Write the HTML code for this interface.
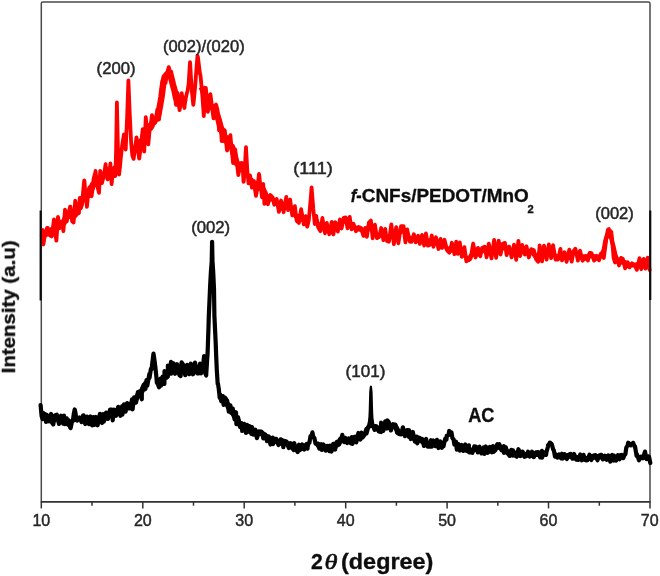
<!DOCTYPE html>
<html lang="en">
<head>
<meta charset="utf-8">
<title>XRD patterns of AC and f-CNFs/PEDOT/MnO2</title>
<style>
html,body{margin:0;padding:0;background:#fff;}
body{width:660px;height:576px;overflow:hidden;}
svg{display:block;font-family:"Liberation Sans",sans-serif;}
.pk{font-size:17px;fill:#262626;stroke:#262626;stroke-width:.5px;}
.tk{font-size:16px;fill:#262626;stroke:#262626;stroke-width:.45px;}
.b{font-weight:bold;fill:#111;stroke:#111;stroke-width:.35px;}
</style>
</head>
<body>
<svg width="660" height="576" viewBox="0 0 660 576">
<defs><filter id="soft" x="-5%" y="-5%" width="110%" height="110%"><feGaussianBlur stdDeviation="0.7"/></filter></defs>
<rect width="660" height="576" fill="#fff"/>
<g filter="url(#soft)">
<!-- plot frame -->
<path d="M41.3 501.9 L41.3 3.4 Q41.3 1.9 42.8 1.9 L648.5 1.9 Q650.0 1.9 650.0 3.4 L650.0 501.9" fill="none" stroke="#4a4a4a" stroke-width="1.5"/>
<line x1="40.8" y1="501.9" x2="650.5" y2="501.9" stroke="#333" stroke-width="1.6"/>
<g stroke="#333" stroke-width="1.5"><line x1="41.3" y1="501.9" x2="41.3" y2="508.4"/><line x1="92.0" y1="501.9" x2="92.0" y2="505.7"/><line x1="142.8" y1="501.9" x2="142.8" y2="508.4"/><line x1="193.5" y1="501.9" x2="193.5" y2="505.7"/><line x1="244.2" y1="501.9" x2="244.2" y2="508.4"/><line x1="294.9" y1="501.9" x2="294.9" y2="505.7"/><line x1="345.7" y1="501.9" x2="345.7" y2="508.4"/><line x1="396.4" y1="501.9" x2="396.4" y2="505.7"/><line x1="447.1" y1="501.9" x2="447.1" y2="508.4"/><line x1="497.8" y1="501.9" x2="497.8" y2="505.7"/><line x1="548.5" y1="501.9" x2="548.5" y2="508.4"/><line x1="599.3" y1="501.9" x2="599.3" y2="505.7"/><line x1="650.0" y1="501.9" x2="650.0" y2="508.4"/></g>
<!-- data -->
<path d="M40.6 413.3 L42.6 413.5 L46.0 416.9 L49.0 418.2 L52.0 419.9 L54.9 419.3 L59.0 418.1 L63.2 419.8 L64.8 420.4 L68.4 424.1 L70.3 423.4 M81.6 417.6 L83.6 419.2 L87.0 421.6 L90.5 420.7 L93.3 419.6 L95.9 421.0 L99.9 420.7 L103.0 419.5 L106.1 417.7 L110.0 414.6 L112.7 412.3 L116.0 410.7 L120.4 410.8 L122.4 410.2 L125.6 406.3 L128.8 406.5 L132.0 403.5 L134.1 402.1 L137.9 395.4 L141.8 391.2 L143.7 387.8 L146.5 382.2 M160.5 382.8 L162.6 379.7 L164.5 377.4 L167.8 373.5 L169.5 371.0 L171.1 368.1 L175.1 367.0 L179.4 369.4 L181.6 369.6 L185.2 368.4 L189.2 366.9 L190.8 369.3 L195.0 370.1 L198.7 371.0 L201.0 369.0 M222.9 398.3 L224.9 399.8 L228.8 407.6 L231.2 409.5 L234.6 416.1 L236.4 418.3 L240.1 424.6 L242.2 426.3 L245.9 428.5 L247.5 429.0 L251.3 430.4 L253.2 431.3 L256.9 433.1 L261.3 433.5 L263.3 434.4 L267.0 437.5 L270.5 440.7 L273.0 441.3 L276.2 440.9 L280.7 443.0 L283.3 442.0 L286.7 443.6 L290.6 446.5 L293.8 447.7 L295.9 448.6 L299.0 448.9 L302.2 448.0 L306.1 446.5 L307.9 443.6 M317.0 443.6 L319.4 445.6 L322.0 446.9 L325.6 447.1 L329.4 448.5 L331.5 448.0 L335.1 444.4 L337.2 444.6 L340.5 439.9 L342.3 439.4 L344.5 439.8 L347.2 440.4 L350.7 440.7 L352.4 440.3 L356.3 437.4 L360.5 435.7 L362.6 436.2 M376.7 428.4 L381.0 429.2 L383.3 426.8 L387.1 423.1 L388.8 425.4 L393.2 425.9 L395.4 426.5 L399.2 433.4 L402.9 432.6 L407.0 433.3 L409.0 434.0 L412.8 437.5 L416.9 439.8 L419.0 439.0 L422.2 441.1 L426.1 443.8 L429.8 445.1 L431.8 443.5 L435.2 442.2 L438.5 443.1 L441.9 444.4 L443.5 442.7 M456.8 446.1 L459.8 447.3 L463.3 446.8 L466.8 448.2 L469.0 450.2 L472.3 450.5 L475.9 448.4 L479.6 450.9 L483.8 450.3 L485.9 450.1 L489.9 450.7 L493.0 450.1 L495.3 448.1 L498.8 446.5 L501.5 447.9 L504.0 449.1 L507.5 452.1 L511.2 452.9 L513.0 452.9 L516.8 453.8 L520.4 452.3 L524.4 454.8 L528.0 454.8 L532.0 455.1 L536.0 453.9 L540.2 454.6 L542.0 454.6 M557.5 455.7 L561.1 456.2 L562.9 456.2 L566.8 456.0 L570.5 455.8 L574.1 457.4 L578.5 458.1 L581.9 456.5 L585.0 458.8 L587.5 458.7 L591.4 456.7 L595.4 456.9 L599.1 456.8 L602.9 456.7 L606.6 457.0 L610.3 457.3 L614.0 457.9 L616.1 458.0 L619.6 456.5 L623.2 455.5" fill="none" stroke="#000" stroke-width="5.6" stroke-linejoin="round" stroke-linecap="butt"/>
<path d="M40.6 405.0 L41.6 416.1 L42.6 419.0 L44.7 414.0 L46.0 422.0 L46.8 414.8 L49.0 421.3 L51.1 413.9 L52.0 422.8 L53.3 424.4 L54.9 415.4 L56.8 414.7 L59.0 423.9 L61.0 415.7 L63.2 423.7 L64.0 415.6 L64.8 424.1 L66.7 418.3 L68.4 424.3 L68.5 420.2 L70.3 427.7 L70.6 428.1 L72.3 420.4 L72.8 421.2 L73.8 413.8 L74.7 409.5 L75.5 413.0 L76.5 420.2 L77.2 420.5 L79.5 417.5 L81.6 422.1 L83.2 415.3 L83.6 415.5 L85.3 424.0 L87.0 416.6 L88.9 424.1 L90.5 416.5 L92.1 425.4 L93.3 417.0 L94.3 424.8 L95.9 417.0 L97.6 425.3 L99.9 413.8 L102.1 422.9 L103.0 414.0 L103.8 421.7 L106.1 412.6 L108.0 418.9 L110.0 409.7 L111.7 409.6 L112.7 420.3 L113.9 409.5 L116.0 415.8 L118.2 406.8 L120.4 415.8 L122.2 406.0 L122.4 414.6 L124.0 404.3 L125.6 411.6 L127.2 403.0 L128.8 408.4 L130.6 408.1 L132.0 399.3 L132.6 409.3 L134.1 397.3 L136.1 402.5 L137.9 392.2 L139.6 391.4 L141.8 399.3 L141.8 389.3 L143.7 384.9 L145.4 389.1 L146.5 380.1 L147.3 385.7 L149.4 373.9 L149.5 378.0 L150.9 368.9 L151.6 369.1 L153.2 355.7 L153.5 353.5 L154.7 361.8 L155.3 366.6 L156.6 379.1 L156.8 382.5 L157.8 384.0 L159.0 387.3 L160.5 378.7 L161.0 385.6 L162.6 376.5 L164.4 383.9 L164.5 371.2 L166.4 377.8 L167.8 376.7 L167.9 365.6 L169.5 373.8 L171.0 361.9 L171.1 373.7 L173.4 363.2 L175.1 373.8 L177.1 364.2 L179.4 375.1 L180.6 376.0 L181.6 362.3 L183.4 365.2 L185.2 375.2 L187.1 364.8 L189.2 374.2 L190.3 364.9 L190.8 363.7 L192.9 374.3 L195.0 362.6 L197.2 373.4 L198.7 373.5 L200.0 363.7 L201.0 373.3 L202.6 363.9 L202.6 369.9 L204.1 356.0 L204.3 361.6 L205.2 373.2 L206.2 375.5 L206.3 373.1 L207.0 362.0 L207.6 353.0 L208.6 323.7 L208.8 316.0 L210.0 289.0 L210.3 282.8 L210.9 272.0 L211.7 262.0 L212.1 241.8 L212.5 262.0 L212.6 262.7 L213.2 272.0 L214.0 289.0 L214.4 316.0 L214.5 317.9 L215.7 343.0 L216.2 356.5 L216.8 370.0 L217.7 384.1 L218.0 384.0 L218.7 388.3 L219.7 397.8 L220.2 394.5 L221.2 401.3 L222.9 396.1 L223.6 404.9 L224.9 397.6 L227.2 400.7 L228.8 411.6 L230.4 405.3 L231.2 412.8 L232.7 408.4 L234.6 419.4 L236.0 412.2 L236.4 424.2 L238.1 417.3 L240.1 427.1 L241.7 423.1 L242.2 431.0 L244.1 423.9 L245.9 432.9 L247.0 424.9 L247.5 432.1 L249.7 426.1 L251.3 433.9 L252.0 427.0 L253.2 434.7 L255.3 429.7 L256.9 438.2 L259.0 431.3 L261.3 431.5 L262.5 432.8 L263.3 438.5 L265.4 434.7 L267.0 441.2 L268.8 436.4 L270.5 444.5 L272.6 437.6 L273.0 444.2 L274.4 438.9 L276.2 438.9 L278.5 445.0 L280.7 439.3 L282.9 440.5 L283.3 447.2 L284.8 441.0 L286.7 441.8 L288.8 448.0 L290.6 443.1 L292.4 448.4 L293.8 450.0 L294.2 443.0 L295.9 449.3 L297.7 452.1 L299.0 444.7 L299.9 450.1 L302.2 444.5 L304.2 449.5 L306.1 444.6 L307.5 448.7 L307.9 443.4 L309.4 442.8 L310.5 436.0 L311.2 437.5 L312.4 432.4 L313.3 436.7 L314.4 438.0 L315.5 443.6 L317.0 443.9 L317.3 443.4 L319.4 448.7 L321.5 444.3 L322.0 450.0 L323.5 444.5 L325.6 450.7 L327.6 446.0 L329.4 451.2 L330.0 445.5 L331.5 451.5 L333.2 443.9 L335.1 449.5 L336.8 441.9 L337.2 442.4 L339.3 444.4 L340.5 438.5 L341.0 441.7 L342.3 434.9 L343.3 439.4 L344.5 442.1 L345.3 437.9 L347.2 443.0 L348.8 438.5 L350.7 443.3 L351.8 437.1 L352.4 443.9 L354.4 436.8 L356.3 442.4 L358.4 433.0 L360.5 439.6 L361.4 432.7 L362.6 437.5 L364.4 435.1 L366.4 428.9 L366.5 433.3 L368.5 426.3 L368.6 427.6 L369.9 422.0 L370.6 419.2 L370.9 418.0 L371.9 422.0 L372.4 424.3 L373.2 426.2 L374.6 429.9 L375.5 426.2 L376.7 426.3 L378.8 431.4 L381.0 432.0 L381.1 422.7 L383.3 430.9 L385.2 421.5 L387.1 428.5 L387.3 420.4 L388.8 422.2 L390.9 430.4 L393.2 424.2 L395.1 424.5 L395.4 424.7 L397.1 432.7 L399.2 433.2 L401.2 434.3 L402.9 427.3 L405.0 436.2 L407.0 430.1 L409.0 436.8 L409.0 430.1 L410.8 439.0 L412.8 432.0 L414.9 441.5 L416.9 436.6 L417.3 443.4 L419.0 437.7 L420.5 438.4 L422.2 439.0 L424.0 445.9 L426.1 438.9 L427.7 446.7 L429.8 446.7 L431.0 440.2 L431.8 446.7 L433.3 440.5 L435.2 446.2 L436.9 439.9 L438.5 448.0 L440.1 441.4 L441.9 447.8 L443.2 442.4 L443.5 446.2 L445.2 438.6 L446.5 439.5 L446.7 435.8 L448.6 435.1 L449.2 430.8 L450.4 433.6 L451.5 432.5 L452.4 438.1 L453.5 439.2 L454.4 444.6 L456.1 441.7 L456.8 449.6 L458.3 444.0 L459.8 450.5 L461.6 445.0 L463.3 450.9 L465.2 444.5 L466.8 450.9 L468.9 445.3 L469.0 452.3 L470.7 452.3 L472.3 452.8 L474.3 446.4 L475.9 446.5 L477.8 452.4 L479.6 446.7 L481.5 453.4 L483.8 447.4 L484.4 453.8 L485.9 446.5 L487.8 452.8 L489.9 446.9 L491.9 452.4 L493.0 446.0 L493.7 451.8 L495.3 450.3 L497.3 444.2 L498.8 447.3 L499.3 444.1 L501.5 450.3 L503.8 446.2 L504.0 452.9 L505.8 447.2 L507.5 453.2 L509.7 455.9 L511.2 449.9 L512.9 455.6 L513.0 450.4 L514.8 455.5 L516.8 456.7 L518.4 449.2 L520.4 456.0 L522.6 451.7 L524.4 456.8 L526.3 456.0 L528.0 451.7 L529.7 456.6 L532.0 451.6 L533.8 457.1 L536.0 452.4 L538.2 452.2 L540.2 457.4 L541.9 450.9 L542.0 457.7 L544.2 452.4 L546.1 454.9 L546.4 452.1 L547.9 447.0 L548.0 445.4 L549.7 443.3 L549.8 442.5 L551.6 443.9 L552.0 445.1 L553.2 449.5 L553.9 450.5 L555.0 456.7 L555.6 454.3 L557.5 457.6 L559.1 454.4 L561.1 458.2 L562.0 453.7 L562.9 458.5 L564.7 454.3 L566.8 459.0 L568.9 454.7 L570.5 453.9 L572.4 458.7 L574.1 453.9 L576.4 459.7 L578.5 460.0 L580.2 454.5 L581.9 460.3 L583.5 454.8 L585.0 459.8 L585.8 460.3 L587.5 460.1 L589.5 454.7 L591.4 460.0 L593.4 455.5 L595.4 455.2 L597.5 460.2 L599.1 455.4 L601.2 454.8 L602.9 459.4 L604.9 455.8 L606.6 459.7 L608.4 455.4 L610.3 461.6 L612.2 454.9 L614.0 460.5 L614.0 455.7 L616.1 460.5 L618.0 455.2 L619.6 459.3 L621.3 454.9 L623.2 458.1 L624.5 454.9 L625.4 454.1 L626.3 447.6 L627.6 445.6 L628.2 442.7 L629.5 443.8 L630.6 445.4 L631.0 444.3 L633.0 443.1 L633.1 442.8 L635.0 447.6 L635.0 446.3 L636.6 456.0 L637.0 454.3 L639.0 460.3 L639.0 460.3 L641.0 456.6 L642.9 458.3 L643.6 455.8 L645.0 451.6 L645.1 452.1 L646.6 459.1 L646.9 459.0 L648.7 456.5 L649.0 456.8 L650.3 463.0" fill="none" stroke="#000" stroke-width="4.2" stroke-linejoin="round" stroke-linecap="round"/>
<polygon points="367.9,428 368.7,410 369.2,392 369.8,386.4 370.9,385.2 372.0,386.4 372.6,392 373.1,410 373.9,428" fill="#000"/>
<path d="M42.5 237.2 L43.4 235.4 L45.5 233.9 L47.8 233.0 L51.7 230.1 L54.0 229.7 L55.2 228.5 L56.8 225.9 L58.8 226.9 L61.1 223.4 L63.4 223.1 L65.0 220.0 L66.8 215.7 L68.6 214.2 L70.5 216.0 L72.0 212.7 L74.6 215.1 L77.1 210.1 L79.0 206.4 L79.8 207.3 L81.7 199.3 L84.2 198.6 L85.6 194.9 L86.9 191.9 L89.3 194.6 L91.3 189.0 L93.1 184.3 L95.5 183.7 L97.2 180.0 L99.0 180.2 L100.2 181.9 L102.0 176.6 L103.8 174.5 L105.6 175.0 L107.8 170.7 L110.4 172.2 L111.6 172.4 M137.0 151.8 L139.3 143.1 L142.7 140.1 L144.2 134.2 L145.8 134.4 L148.3 126.3 L150.5 127.5 L152.7 123.1 L155.2 119.4 L157.3 118.4 L159.0 111.3 L161.5 97.0 L163.5 81.7 L165.6 76.1 L167.2 74.2 L169.6 73.9 L171.2 77.6 L172.9 84.5 L174.5 90.3 L176.1 98.0 L178.7 101.8 L180.7 101.7 L182.7 102.5 L184.4 98.9 L185.8 98.0 M201.7 86.9 L203.8 91.6 L205.8 102.3 L207.9 99.9 L210.4 107.0 L213.5 107.9 L215.5 111.5 L217.5 116.1 L219.0 121.2 L220.6 127.3 L222.2 131.1 L224.8 140.1 L227.1 138.4 L229.6 145.6 L231.8 146.6 L234.4 155.6 L236.4 162.7 L238.6 165.0 L241.3 171.7 M250.0 179.3 L251.9 182.6 L254.0 185.1 L256.0 184.3 L257.6 185.8 L259.3 187.3 L261.2 186.7 L263.1 190.1 L264.4 194.0 L265.6 195.7 L267.9 198.2" fill="none" stroke="#fe0000" stroke-width="6.5" stroke-linejoin="round" stroke-linecap="butt"/>
<path d="M264.4 194.0 L265.6 195.7 L267.9 198.2 L270.4 199.5 L272.5 198.7 L274.4 200.5 L277.1 204.1 L279.4 203.8 L281.8 208.2 L284.4 204.8 L286.4 204.8 L288.4 205.1 L291.1 208.4 L293.7 210.4 L295.7 216.3 L297.8 215.9 L300.3 219.9 L303.0 217.3 L305.0 220.6 L307.2 218.7 M316.2 219.8 L318.0 224.3 L320.4 224.9 L322.4 227.1 L325.0 225.5 L326.8 228.2 L329.3 227.6 L331.7 227.9 L333.4 226.7 L335.3 227.7 L337.8 225.2 L339.9 223.9 L341.7 222.0 L343.8 221.7 L346.1 219.1 L348.7 222.8 L351.1 225.0 L353.2 227.0 L355.9 227.7 L357.9 229.1 L359.8 229.5 L361.8 229.2 L364.1 231.4 L366.0 231.5 L368.0 227.6 L370.2 229.2 L372.5 226.3 L374.5 232.4 L376.7 234.8 L379.2 235.4 L381.2 233.5 L383.4 235.1 L385.2 236.1 L387.0 238.7 L389.4 236.8 L391.3 235.8 L393.9 232.9 L396.2 239.1 L398.4 233.1 L401.0 231.9 L403.6 230.0 L405.4 230.6 L407.2 235.6 L409.8 237.9 L412.0 239.9 L414.2 238.4 L416.9 238.4 L418.8 239.0 L421.2 240.1 L423.7 239.3 L425.9 241.7 L427.9 240.8 L429.6 240.8 L431.8 243.6 L433.9 239.9 L436.6 243.7 L438.8 243.6 L441.3 244.0 L443.9 244.2 L446.6 248.2 L448.8 248.9 L451.4 250.5 L454.0 247.3 L456.2 248.0 L457.9 249.3 L459.8 248.3 L461.8 251.4 L464.4 255.4 L466.3 257.6 L468.8 259.6 L470.6 255.9 L473.2 254.8 L475.5 249.7 L478.0 254.4 L480.3 249.9 L482.7 251.3 L485.1 248.8 L487.3 249.6 L489.9 254.0 L491.9 247.9 L494.4 253.1 L496.3 245.1 L498.7 251.2 L500.9 244.7 L503.0 248.3 L505.5 246.4 L507.8 250.2 L510.2 251.0 L512.9 251.9 L514.9 250.7 L516.8 250.4 L518.9 250.2 L521.4 248.7 L523.4 250.3 L525.4 251.2 L528.1 252.2 L530.5 250.9 L532.8 253.1 L535.4 256.8 L537.6 254.9 L539.7 258.1 L542.0 252.5 L544.0 256.4 L546.6 249.8 L548.8 253.9 L551.1 249.4 L553.0 254.1 L555.6 255.8 L558.1 256.6 L560.4 256.8 L562.0 255.7 L564.6 256.2 L566.6 255.1 L569.3 257.7 L571.7 252.8 L573.6 252.6 L575.7 253.1 L577.9 252.9 L580.0 257.4 L582.6 256.3 L585.3 258.4 L587.9 255.8 L589.7 255.7 L591.5 256.3 L594.1 256.1 L596.7 258.7 L599.1 256.6 L600.9 256.2 L603.8 249.8 L605.4 240.6 L607.1 235.5 L608.9 234.0 L609.6 234.0 L611.4 238.6 L612.2 242.1 L613.6 247.2 L615.0 253.4 L616.4 259.8 L619.0 259.7 L621.1 262.3 L622.9 262.5 L625.1 262.3 L627.7 266.0 L629.5 264.7 L632.0 265.2 L634.6 265.4 L636.9 264.3 L639.5 265.3 L641.3 262.9 L643.6 263.5 L645.5 262.1 L647.7 264.2" fill="none" stroke="#fe0000" stroke-width="4.4" stroke-linejoin="round" stroke-linecap="butt"/>
<path d="M42.5 230.0 L42.7 243.0 L43.4 244.4 L44.8 236.0 L45.5 232.7 L47.1 227.9 L47.8 228.0 L49.8 235.3 L51.7 236.4 L52.1 233.8 L54.0 219.3 L54.4 220.9 L55.2 232.6 L56.4 240.6 L56.8 235.0 L58.0 216.8 L58.8 221.5 L60.0 226.0 L61.1 224.6 L61.8 221.7 L63.4 231.1 L63.5 229.6 L65.0 209.6 L66.1 215.1 L66.8 221.3 L68.0 214.6 L68.6 212.9 L70.1 206.6 L70.5 206.8 L72.0 219.3 L72.0 221.0 L73.6 222.5 L74.6 210.0 L75.2 200.6 L77.1 211.4 L77.4 213.9 L79.0 213.1 L79.0 211.5 L79.8 197.9 L81.5 205.2 L81.7 205.0 L82.8 195.1 L84.2 180.4 L84.5 181.4 L85.6 198.8 L86.9 206.0 L86.9 206.9 L88.6 190.7 L89.3 187.3 L90.2 187.1 L91.3 195.8 L91.6 196.2 L93.1 184.3 L93.5 179.3 L95.5 171.8 L95.5 170.9 L97.2 186.3 L97.4 186.3 L99.0 192.9 L99.4 185.1 L100.2 170.8 L101.4 178.1 L102.0 183.1 L103.3 177.3 L103.8 176.8 L105.6 164.1 L105.6 164.7 L107.4 179.2 L107.8 179.3 L109.2 173.0 L110.4 163.9 L110.4 163.3 L111.6 184.2 L112.8 171.7 L113.0 171.0 L114.4 167.5 L115.2 175.1 L115.4 176.0 L116.1 150.0 L116.9 102.5 L117.5 129.4 L117.8 145.0 L119.1 174.5 L119.9 167.3 L120.6 160.0 L122.2 145.1 L122.2 145.0 L123.9 134.5 L124.3 136.8 L125.7 149.5 L127.0 119.4 L127.1 118.0 L128.4 80.5 L129.8 115.0 L131.1 142.0 L132.3 155.0 L132.4 155.5 L133.6 158.9 L134.9 150.1 L136.5 137.3 L137.0 140.1 L139.1 158.5 L139.3 158.5 L141.2 143.4 L142.7 129.2 L143.1 136.4 L144.2 151.6 L145.6 121.4 L145.8 117.2 L147.8 140.5 L148.3 144.3 L150.0 126.1 L150.5 126.1 L152.0 115.1 L152.7 121.2 L153.6 123.4 L155.2 122.4 L155.4 122.4 L157.3 109.6 L158.0 115.6 L159.0 119.5 L159.8 111.9 L161.5 88.6 L161.9 88.1 L163.5 76.5 L164.6 80.6 L165.6 82.7 L166.8 73.5 L167.2 72.8 L168.8 67.1 L169.6 70.5 L170.0 71.2 L171.2 71.6 L171.8 75.0 L172.9 88.4 L173.7 88.9 L174.5 93.2 L176.0 104.8 L176.1 103.5 L177.5 93.0 L178.7 104.4 L179.6 110.1 L180.7 102.9 L181.7 93.2 L182.7 100.7 L183.0 101.0 L184.4 108.0 L184.8 104.2 L185.8 98.0 L187.1 92.2 L187.5 91.5 L188.6 84.0 L190.0 62.1 L190.1 62.7 L191.6 88.0 L192.0 92.5 L193.3 104.8 L194.1 97.8 L195.2 86.0 L196.0 74.7 L197.5 55.7 L197.9 57.1 L200.0 73.9 L200.5 75.5 L201.7 88.3 L202.5 97.7 L203.8 116.2 L204.8 99.1 L205.8 87.8 L207.1 101.3 L207.9 111.8 L209.1 101.4 L210.4 94.1 L211.6 103.3 L213.5 118.3 L213.6 116.9 L215.5 105.0 L216.0 104.5 L217.5 109.7 L218.0 114.8 L219.0 130.3 L220.2 124.0 L220.6 123.9 L221.7 141.2 L222.2 140.9 L224.3 130.0 L224.8 130.4 L226.9 149.9 L227.1 150.5 L228.6 138.3 L229.6 138.3 L230.4 135.2 L231.8 150.8 L233.1 163.1 L234.4 155.9 L235.2 149.4 L236.4 158.6 L238.3 175.1 L238.6 173.1 L240.5 167.1 L241.3 162.8 L242.5 163.2 L243.5 181.9 L243.7 181.6 L244.8 170.0 L245.6 153.1 L246.0 147.1 L247.4 172.0 L248.4 181.8 L248.5 183.3 L250.0 175.4 L250.4 177.3 L251.9 187.7 L252.5 184.5 L254.0 181.1 L255.0 189.7 L256.0 195.9 L257.2 189.4 L257.6 186.0 L259.0 174.0 L259.3 175.4 L260.6 188.8 L261.2 190.5 L262.0 197.3 L263.1 185.2 L263.2 184.0 L264.4 203.9 L265.5 192.9 L265.6 192.1 L267.6 202.7 L267.9 204.2 L270.0 196.5 L270.4 195.0 L272.1 196.8 L272.5 197.2 L274.3 204.7 L274.4 204.4 L276.7 199.0 L277.1 201.6 L278.9 211.9 L279.4 209.3 L281.0 200.5 L281.8 203.8 L283.6 212.2 L284.4 207.7 L286.3 196.8 L286.4 197.9 L288.1 210.2 L288.4 208.5 L290.1 199.5 L291.1 206.8 L292.3 215.4 L293.7 210.5 L294.9 206.1 L295.7 213.0 L296.7 220.8 L297.8 221.8 L298.9 222.9 L300.3 214.5 L301.1 209.2 L303.0 219.7 L303.8 224.4 L305.0 218.9 L305.6 216.1 L307.2 226.7 L307.7 224.7 L308.8 220.0 L309.9 208.0 L310.4 202.3 L311.6 187.4 L312.8 202.3 L313.3 209.0 L314.8 224.0 L315.0 222.9 L316.2 215.8 L316.9 220.3 L318.0 226.8 L318.8 228.3 L320.4 231.2 L321.5 223.7 L322.4 218.0 L323.6 225.2 L325.0 233.3 L326.1 226.9 L326.8 222.9 L328.1 229.0 L329.3 234.2 L330.8 226.6 L331.7 221.8 L333.1 232.7 L333.4 234.4 L335.2 222.6 L335.3 222.3 L337.2 229.5 L337.8 231.6 L339.8 220.2 L339.9 219.4 L341.6 228.5 L341.7 228.0 L343.7 218.0 L343.8 217.8 L345.6 217.4 L346.1 220.2 L347.5 228.3 L348.7 222.0 L349.7 216.8 L351.1 226.2 L351.6 229.3 L353.2 224.7 L353.5 223.8 L355.9 231.2 L355.9 231.2 L357.9 228.0 L358.5 227.0 L359.8 227.5 L361.0 228.0 L361.8 230.8 L363.5 235.9 L364.1 233.1 L365.2 227.9 L366.0 232.1 L366.9 236.8 L368.0 228.7 L368.9 222.6 L370.2 221.2 L370.9 220.5 L372.5 236.6 L372.7 238.3 L374.5 226.8 L374.9 224.6 L376.7 236.0 L377.0 238.2 L379.2 236.8 L379.3 236.1 L381.2 228.0 L382.1 232.7 L383.4 240.1 L384.5 233.0 L385.2 228.8 L386.9 241.0 L387.0 241.0 L388.9 241.7 L389.4 238.5 L391.3 224.5 L391.3 224.5 L393.2 239.0 L393.9 244.2 L395.1 235.5 L396.2 227.1 L397.8 238.6 L398.4 243.3 L400.2 231.2 L401.0 226.2 L403.0 226.2 L403.6 226.2 L404.8 237.2 L405.4 242.4 L407.2 229.4 L407.2 229.7 L409.5 240.4 L409.8 241.6 L411.4 241.9 L412.0 239.9 L413.9 234.2 L414.2 235.5 L415.7 242.3 L416.9 239.0 L418.1 235.8 L418.8 239.2 L419.8 243.9 L421.2 238.5 L422.1 235.0 L423.7 243.0 L424.2 245.6 L425.9 233.4 L426.4 236.1 L427.9 245.7 L428.9 245.3 L429.6 245.0 L431.4 237.2 L431.8 235.5 L433.4 246.8 L433.9 244.9 L436.0 237.3 L436.6 240.4 L438.5 249.0 L438.8 247.6 L440.5 238.8 L441.3 243.2 L442.1 247.9 L443.9 241.7 L444.5 239.8 L446.6 248.4 L447.0 250.3 L448.8 252.2 L449.3 252.7 L451.4 244.9 L451.9 242.8 L454.0 252.3 L454.4 254.2 L456.2 241.7 L456.4 242.8 L457.9 253.9 L458.8 248.6 L459.8 242.4 L461.0 251.1 L461.8 256.8 L463.4 250.9 L464.4 247.1 L465.8 257.3 L466.3 261.3 L467.7 260.6 L468.8 260.1 L470.1 259.1 L470.6 258.8 L472.8 245.6 L473.2 243.5 L475.5 257.4 L475.5 257.6 L478.0 248.0 L478.0 247.9 L480.2 255.9 L480.3 256.3 L482.1 247.9 L482.7 247.6 L484.7 246.7 L485.1 248.7 L486.6 257.3 L487.3 253.0 L488.8 243.6 L489.9 249.9 L491.5 258.4 L491.9 255.7 L494.1 239.9 L494.4 242.3 L496.1 257.8 L496.3 256.7 L498.6 240.9 L498.7 240.7 L500.6 254.5 L500.9 252.8 L503.0 243.6 L503.0 243.5 L504.9 242.9 L505.5 247.0 L506.6 255.1 L507.8 251.3 L509.2 246.6 L510.2 250.8 L511.6 257.4 L512.9 250.9 L514.0 244.7 L514.9 250.9 L516.2 259.8 L516.8 254.8 L518.4 240.8 L518.9 245.2 L520.2 256.0 L521.4 249.7 L522.2 244.9 L523.4 249.3 L524.8 254.6 L525.4 251.7 L526.5 246.3 L528.1 253.9 L528.8 257.5 L530.5 251.6 L531.3 249.1 L532.8 249.8 L533.9 250.3 L535.4 256.4 L536.1 259.2 L537.6 261.1 L538.1 261.7 L539.7 245.5 L540.0 247.5 L542.0 261.3 L542.0 261.4 L544.0 245.6 L544.3 247.0 L546.6 259.6 L546.9 257.8 L548.8 244.4 L549.5 248.9 L551.1 258.1 L552.2 251.0 L553.0 245.2 L554.4 252.7 L555.6 259.6 L556.8 259.6 L558.1 259.6 L558.9 256.0 L560.4 248.9 L560.9 252.1 L562.0 260.4 L563.1 256.9 L564.6 252.2 L565.8 257.6 L566.6 261.8 L568.4 253.9 L569.3 249.7 L570.9 257.6 L571.7 261.6 L573.5 251.3 L573.6 251.2 L575.4 248.7 L575.7 250.2 L577.7 259.6 L577.9 260.6 L579.9 251.2 L580.0 250.7 L582.0 258.3 L582.6 260.7 L584.1 258.2 L585.3 256.0 L586.3 257.7 L587.9 260.5 L588.7 257.2 L589.7 252.9 L591.0 253.0 L591.5 253.1 L593.1 257.8 L594.1 260.6 L595.7 257.6 L596.7 255.8 L598.5 259.1 L599.1 260.3 L600.7 254.3 L600.9 253.6 L602.6 256.2 L603.8 258.0 L604.5 252.7 L605.4 246.0 L606.6 236.0 L607.1 233.5 L608.0 229.6 L608.9 229.0 L609.0 230.3 L609.6 236.0 L610.4 231.0 L611.4 232.2 L611.5 233.4 L612.2 240.0 L612.8 248.0 L613.6 258.0 L613.9 258.9 L615.0 262.5 L616.0 258.4 L616.4 256.9 L618.6 264.0 L619.0 265.5 L620.4 260.4 L621.1 257.9 L622.4 258.7 L622.9 259.0 L624.7 266.6 L625.1 268.4 L626.5 265.0 L627.7 262.2 L629.1 266.4 L629.5 267.4 L631.2 264.6 L632.0 263.3 L633.1 264.0 L634.6 264.9 L635.0 265.9 L636.9 269.9 L637.5 267.4 L639.5 258.2 L639.7 259.1 L641.3 269.1 L642.1 265.5 L643.6 258.9 L644.6 263.7 L645.5 268.6 L647.1 260.4 L647.7 257.7 L649.6 270.0" fill="none" stroke="#fe0000" stroke-width="3.8" stroke-linejoin="round" stroke-linecap="round"/>
<!-- thick overlapped axis pieces -->
<line x1="40.7" y1="210.5" x2="40.7" y2="300.5" stroke="#111" stroke-width="2.2"/>
<line x1="650.2" y1="210.5" x2="650.2" y2="300" stroke="#111" stroke-width="2.2"/>
<!-- tick labels -->
<g class="tk"><text x="41.3" y="526.1" text-anchor="middle">10</text><text x="142.8" y="526.1" text-anchor="middle">20</text><text x="244.2" y="526.1" text-anchor="middle">30</text><text x="345.7" y="526.1" text-anchor="middle">40</text><text x="447.1" y="526.1" text-anchor="middle">50</text><text x="548.5" y="526.1" text-anchor="middle">60</text><text x="649.7" y="526.1" text-anchor="middle">70</text></g>
<!-- peak labels -->
<g class="pk">
<text x="96.6" y="74.0" textLength="38.9" lengthAdjust="spacingAndGlyphs">(200)</text>
<text x="162.9" y="51.7" textLength="81.8" lengthAdjust="spacingAndGlyphs">(002)/(020)</text>
<text x="293.3" y="173.5" textLength="39.4" lengthAdjust="spacingAndGlyphs">(111)</text>
<text x="595.2" y="218.8" textLength="38.6" lengthAdjust="spacingAndGlyphs">(002)</text>
<text x="191.2" y="233.1" textLength="39" lengthAdjust="spacingAndGlyphs">(002)</text>
<text x="345.6" y="377.2" textLength="39.8" lengthAdjust="spacingAndGlyphs">(101)</text>
</g>
<!-- series labels -->
<text class="b" x="350.8" y="201.6" font-size="19.2" font-style="italic" textLength="5.6" lengthAdjust="spacingAndGlyphs">f</text>
<text class="b" x="356.3" y="201.6" font-size="19.2" textLength="5.4" lengthAdjust="spacingAndGlyphs">-</text>
<text class="b" x="361.8" y="201.6" font-size="19.2" textLength="167" lengthAdjust="spacingAndGlyphs">CNFs/PEDOT/MnO</text>
<text class="b" x="527.6" y="213.1" font-size="10.8" textLength="6.2" lengthAdjust="spacingAndGlyphs">2</text>
<text class="b" x="468.2" y="422.1" font-size="19.6" textLength="26.2" lengthAdjust="spacingAndGlyphs">AC</text>
<!-- axis titles -->
<text class="b" transform="translate(14.9 373.4) rotate(-90)" font-size="17.6" textLength="133" lengthAdjust="spacingAndGlyphs">Intensity (a.u)</text>
<text class="b" x="310.9" y="569.1" font-size="22.2" textLength="11.8" lengthAdjust="spacingAndGlyphs">2</text>
<text x="324.6" y="569.1" font-size="20.2" font-style="italic" fill="#111" stroke="#111" stroke-width=".55" font-family="'Liberation Serif',serif" textLength="13" lengthAdjust="spacingAndGlyphs">θ</text>
<text class="b" x="341" y="568.9" font-size="22.6" textLength="92.4" lengthAdjust="spacingAndGlyphs">(degree)</text>
</g>
</svg>
</body>
</html>
